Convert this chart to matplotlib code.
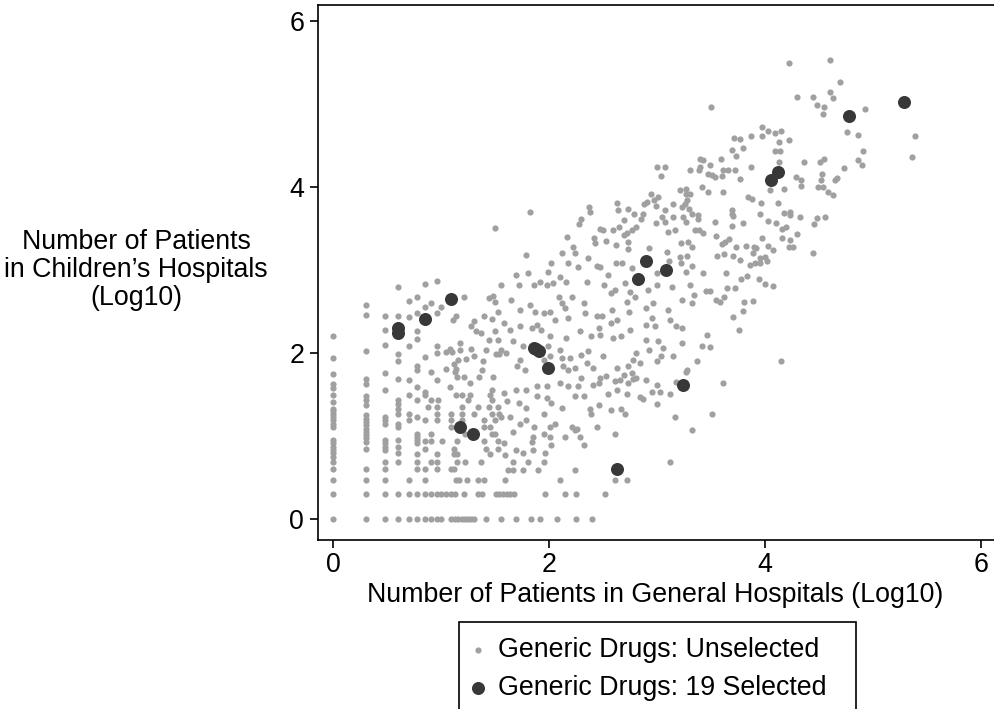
import numpy as np
import matplotlib
matplotlib.use("Agg")
import matplotlib.pyplot as plt

plt.rcParams['font.family'] = ['Liberation Sans', 'DejaVu Sans']

# ---- data (log10 of patient counts) ----
# discrete columns at the low end of general hospitals: log10(1..6)
col_x = [0.0, 0.301, 0.477, 0.602, 0.699, 0.778]
col_y = [
    [2.20, 1.94, 1.75, 1.63, 1.58, 1.49, 1.41, 1.33, 1.30, 1.27, 1.23, 1.19, 1.15, 1.11,
     0.95, 0.91, 0.87, 0.83, 0.79, 0.75, 0.69, 0.60, 0.47, 0.30, 0.0],
    [2.58, 2.46, 2.03, 1.69, 1.63, 1.48, 1.43, 1.37, 1.25, 1.21, 1.17, 1.13, 1.09, 1.05,
     1.01, 0.97, 0.93, 0.84, 0.60, 0.47, 0.30, 0.0],
    [2.44, 2.28, 2.10, 1.76, 1.55, 1.23, 1.19, 1.15, 0.95, 0.91, 0.87, 0.83, 0.69, 0.60,
     0.47, 0.30, 0.0],
    [2.80, 2.44, 1.99, 1.90, 1.69, 1.43, 1.39, 1.33, 1.27, 1.14, 1.11, 0.95, 0.87, 0.79,
     0.69, 0.30, 0.0],
    [2.63, 2.43, 2.08, 1.68, 1.49, 1.27, 1.19, 0.47, 0.30, 0.0],
    [2.67, 2.48, 2.27, 2.17, 1.84, 1.80, 1.59, 1.43, 1.23, 1.03, 0.99, 0.95, 0.91, 0.78,
     0.69, 0.60, 0.30, 0.0],
]

# discrete rows at the low end of children's hospitals: log10(1) and log10(2)
row0_x = [0.85, 0.91, 0.96, 1.0, 1.09, 1.13, 1.16, 1.19, 1.22, 1.25, 1.28, 1.31, 1.42,
          1.56, 1.69, 1.83, 1.92, 2.07, 2.25, 2.40]
row1_x = [0.85, 0.91, 0.96, 1.0, 1.05, 1.09, 1.13, 1.21, 1.34, 1.38, 1.51, 1.54, 1.57,
          1.61, 1.64, 1.68, 1.96, 2.15, 2.25, 2.52]

# low-left part of the cloud
low_pts = [
    (0.85, 0.47), (1.14, 0.47), (1.17, 0.47), (1.24, 0.47), (1.34, 0.47), (1.40, 0.47),
    (0.85, 0.60), (0.96, 0.60), (1.09, 0.60), (1.12, 0.60),
    (0.91, 0.69), (0.96, 0.69), (1.15, 0.69), (1.22, 0.69), (1.37, 0.69),
    (0.96, 0.78), (1.12, 0.78), (1.15, 0.78), (1.45, 0.78),
    (0.85, 0.84), (1.12, 0.84), (1.42, 0.84), (1.53, 0.84),
    (0.85, 0.94), (0.91, 0.94), (1.01, 0.94), (1.15, 0.94), (1.40, 0.94), (1.53, 0.94),
    (0.91, 1.03), (1.22, 1.03), (1.47, 1.03), (1.50, 1.03),
    (1.09, 1.11), (1.40, 1.11), (1.45, 1.11),
    (0.85, 1.19), (0.96, 1.19), (1.09, 1.19), (1.19, 1.19), (1.40, 1.19), (1.50, 1.19),
    (0.96, 1.27), (1.09, 1.27), (1.19, 1.27), (1.31, 1.27), (1.47, 1.27), (1.54, 1.27),
    (0.88, 1.35), (0.96, 1.35), (1.19, 1.35), (1.34, 1.35), (1.44, 1.35), (1.53, 1.35),
    (0.91, 1.43), (0.97, 1.43), (1.25, 1.43), (1.47, 1.43),
    (0.85, 1.49), (1.14, 1.49), (1.19, 1.49), (1.27, 1.49), (1.45, 1.49),
    (0.85, 2.83), (0.96, 2.87), (0.85, 2.55), (0.91, 2.60), (0.96, 2.48), (1.0, 2.56),
    (1.11, 2.40), (1.14, 2.44), (1.21, 2.67), (0.85, 1.95), (0.96, 2.09), (0.96, 2.00),
    (1.05, 2.01), (1.08, 2.05), (1.10, 2.01), (1.18, 2.12), (1.18, 2.04), (1.28, 2.05),
    (1.31, 1.96), (1.16, 1.92), (1.23, 1.93), (1.12, 1.87), (1.14, 1.81), (1.13, 1.77),
    (1.05, 1.81), (0.91, 1.77), (0.96, 1.67), (1.15, 1.71), (1.21, 1.71), (1.27, 1.64),
    (1.35, 1.71), (1.38, 1.79), (0.85, 1.53), (1.08, 1.59), (1.28, 2.32), (1.32, 2.26),
    (1.37, 2.24), (1.31, 2.38), (1.40, 2.44), (1.47, 2.41), (1.44, 2.66), (1.48, 2.69),
    (1.50, 2.62), (1.53, 2.50), (1.50, 2.26), (1.53, 2.16), (1.44, 2.16), (1.42, 2.04),
    (1.51, 1.99), (1.54, 1.99), (1.39, 1.90), (1.48, 1.71), (1.47, 1.55),
]

# middle of the cloud
mid_pts = [
    (1.79, 3.18), (2.02, 3.08), (2.12, 3.21), (2.24, 3.21), (2.18, 3.08), (2.27, 3.04),
    (2.36, 3.15), (2.44, 3.05), (2.47, 3.04), (2.62, 3.08), (2.68, 3.08), (2.77, 3.02),
    (3.0, 2.97), (3.09, 3.22), (3.21, 3.16), (3.28, 3.17), (3.32, 3.05), (3.22, 3.08),
    (3.11, 3.11), (3.27, 2.98),
    (1.69, 2.94), (1.81, 2.96), (1.99, 2.98), (2.10, 2.92), (1.92, 2.86), (1.56, 2.82),
    (1.72, 2.82), (1.86, 2.82), (1.98, 2.82), (2.04, 2.84), (2.16, 2.86), (2.35, 2.86),
    (2.55, 2.94), (2.70, 2.84), (2.61, 2.76), (2.51, 2.82), (2.57, 2.72), (2.75, 2.74),
    (2.80, 2.68), (2.92, 2.76), (3.0, 2.82), (3.14, 2.80), (3.31, 2.82), (3.34, 2.70),
    (3.23, 2.64), (3.32, 2.60),
    (1.65, 2.64), (1.73, 2.52), (1.82, 2.58), (1.87, 2.50), (1.95, 2.48), (2.01, 2.50),
    (2.06, 2.40), (2.15, 2.54), (2.18, 2.42), (2.21, 2.68), (2.09, 2.68), (2.12, 2.60),
    (2.32, 2.60), (2.33, 2.48), (2.44, 2.44), (2.49, 2.44), (2.58, 2.52), (2.57, 2.36),
    (2.63, 2.40), (2.74, 2.50), (2.72, 2.62), (2.90, 2.54), (2.96, 2.60), (3.10, 2.52),
    (3.18, 2.32), (3.23, 2.30), (3.12, 2.40), (2.95, 2.42), (2.98, 2.32), (2.90, 2.34),
    (2.75, 2.28), (2.39, 2.20), (2.47, 2.22), (2.59, 2.18), (2.67, 2.20), (2.46, 2.30),
    (1.58, 2.36), (1.64, 2.28), (1.73, 2.32), (1.84, 2.30), (1.89, 2.34), (1.93, 2.28),
    (2.01, 2.20), (2.16, 2.18), (2.29, 2.26), (1.67, 2.14), (1.56, 2.04), (1.76, 2.08),
    (1.89, 2.04), (1.99, 2.08), (2.10, 2.04), (2.19, 1.94), (2.30, 1.97), (2.36, 2.02),
    (2.50, 1.96), (2.35, 1.88), (2.24, 1.82), (2.41, 1.82), (2.90, 2.16), (2.93, 2.04),
    (3.01, 2.14), (3.06, 2.06), (3.04, 1.96), (3.0, 1.90), (3.15, 1.96), (3.23, 2.12),
    (3.37, 1.90), (3.28, 1.80), (2.81, 2.00), (2.78, 1.92), (2.84, 1.88), (2.73, 1.84),
    (2.63, 1.82), (2.69, 1.74), (2.77, 1.76), (2.81, 1.70), (2.90, 1.68), (2.73, 1.64),
    (2.66, 1.68),
    (1.73, 1.92), (1.60, 2.00), (1.70, 1.84), (1.78, 1.80), (1.95, 1.92), (2.01, 1.96),
    (2.12, 1.94), (2.13, 1.84), (2.18, 1.80), (2.30, 1.70), (2.27, 1.60), (2.18, 1.60),
    (2.10, 1.64), (1.98, 1.60), (1.89, 1.60), (1.79, 1.56), (1.69, 1.56), (1.58, 1.52),
    (1.61, 1.42), (1.72, 1.40), (1.79, 1.34), (1.89, 1.48), (1.98, 1.46), (2.02, 1.40),
    (1.95, 1.27), (2.12, 1.34), (2.24, 1.48), (2.32, 1.48), (2.41, 1.62), (2.47, 1.70),
    (2.55, 1.51), (2.46, 1.37), (2.39, 1.27), (2.44, 1.11), (2.57, 1.31), (2.67, 1.33),
    (2.70, 1.27), (2.63, 1.55), (2.72, 1.51), (2.87, 1.45), (3.0, 1.61), (2.95, 1.53),
    (3.03, 1.53), (3.0, 1.39), (3.12, 1.51), (3.18, 1.65), (3.27, 1.77), (3.61, 1.64),
    (3.51, 1.27), (3.17, 1.23), (3.32, 1.07), (3.12, 0.69), (2.61, 1.03), (2.61, 0.47),
    (2.72, 0.47), (2.10, 0.47), (2.24, 0.59), (1.90, 0.59), (1.76, 0.59), (1.67, 0.59),
    (1.62, 0.59), (1.59, 0.47), (1.67, 0.69), (1.76, 0.79), (1.85, 0.83), (1.96, 0.79),
    (1.95, 0.69), (1.81, 0.69), (1.59, 0.77), (1.69, 0.83), (1.58, 0.91), (1.85, 0.99),
    (1.84, 0.93), (1.95, 1.03), (2.01, 0.99), (2.02, 0.89), (2.15, 0.99), (2.24, 1.07),
    (2.29, 0.99), (2.32, 0.89), (1.67, 1.05), (1.73, 1.15), (1.79, 1.19), (1.64, 1.23),
    (1.56, 1.23), (1.86, 1.11), (2.01, 1.11), (2.06, 1.15), (2.26, 1.09), (2.21, 1.11),
    (2.38, 1.33), (2.46, 1.64), (2.53, 1.72), (2.61, 1.66), (2.84, 1.47), (2.78, 1.69),
]

# upper part of the cloud
upper_pts = [
    (1.82, 3.70), (1.50, 3.51), (2.22, 3.28), (3.31, 4.20), (3.27, 3.98), (3.21, 3.96),
    (3.27, 3.91), (3.31, 3.92), (3.28, 3.84), (3.26, 3.80), (3.30, 3.74), (3.32, 3.68),
    (3.23, 3.76), (3.38, 3.66), (3.38, 3.62), (3.24, 3.64), (3.15, 3.79), (3.07, 3.72),
    (3.05, 3.64), (2.99, 3.57), (3.07, 3.58), (3.10, 3.46), (3.15, 3.64), (3.17, 3.48),
    (3.27, 3.58), (3.35, 3.48), (3.39, 3.48), (3.0, 4.24), (3.07, 4.24), (3.04, 4.13),
    (2.94, 3.92), (3.01, 3.88), (2.97, 3.84), (2.91, 3.82), (2.88, 3.80), (2.99, 3.77),
    (2.63, 3.81), (2.64, 3.72), (2.73, 3.74), (2.79, 3.68), (2.87, 3.68), (2.85, 3.62),
    (2.69, 3.60), (2.81, 3.52), (2.77, 3.48), (2.72, 3.44), (2.69, 3.42), (2.65, 3.52),
    (2.59, 3.48), (2.47, 3.50), (2.50, 3.48), (2.37, 3.76), (2.38, 3.70), (2.30, 3.62),
    (2.28, 3.55), (2.17, 3.40), (2.42, 3.39), (2.53, 3.35), (2.43, 3.32), (2.62, 3.30),
    (2.73, 3.34), (2.73, 3.25), (2.93, 3.26), (3.22, 3.32), (3.29, 3.34), (3.32, 3.28),
    (3.39, 4.20),
    (3.54, 3.58), (3.43, 3.45), (3.55, 3.41), (3.69, 3.53), (3.80, 3.57), (3.69, 3.72),
    (3.69, 3.68), (3.70, 3.65), (3.95, 3.67), (4.03, 3.59), (4.10, 3.57), (4.18, 3.69),
    (4.23, 3.70), (4.23, 3.66), (4.32, 3.64), (4.45, 3.55), (4.48, 3.63), (4.56, 3.64),
    (4.16, 3.50), (4.19, 3.52), (4.16, 3.39), (4.23, 3.36), (4.22, 3.28), (4.26, 3.28),
    (4.30, 3.43), (4.44, 3.21), (3.97, 3.39), (3.60, 3.31), (3.63, 3.34), (3.67, 3.37),
    (3.73, 3.28), (3.82, 3.29), (3.90, 3.28), (3.92, 3.26), (4.03, 3.29), (4.07, 3.24),
    (4.0, 3.16), (4.02, 3.11), (3.95, 3.14), (3.89, 3.20), (3.56, 3.17), (3.62, 3.19),
    (3.70, 3.17), (3.77, 3.12), (3.86, 3.06), (3.91, 3.08), (3.95, 3.09), (3.43, 2.97),
    (3.64, 2.96), (3.83, 2.93), (3.94, 2.89), (4.0, 2.83), (4.07, 2.81), (3.78, 2.89),
    (3.65, 2.78), (3.72, 2.78), (3.45, 2.75), (3.49, 2.75), (3.55, 2.64), (3.62, 2.67),
    (3.58, 2.61), (3.81, 2.61), (3.89, 2.63), (3.80, 2.51), (3.70, 2.43), (3.76, 2.28),
    (3.46, 2.22), (3.42, 2.08), (3.49, 2.07), (4.15, 1.90),
    (3.71, 4.59), (3.77, 4.58), (3.87, 4.62), (3.97, 4.72), (3.97, 4.62), (4.03, 4.68),
    (4.09, 4.65), (4.15, 4.68), (4.13, 4.54), (4.22, 4.57), (3.69, 4.45), (3.80, 4.47),
    (3.73, 4.37), (3.59, 4.34), (3.40, 4.34), (4.09, 4.43), (4.14, 4.43), (4.13, 4.30),
    (3.87, 4.24), (4.36, 4.30), (4.51, 4.30), (4.55, 4.34), (4.73, 4.23), (4.86, 4.32),
    (4.90, 4.27), (4.91, 4.43), (4.86, 4.63), (4.76, 4.66), (4.93, 4.94), (4.54, 4.88),
    (4.55, 4.96), (4.48, 4.99), (4.44, 5.08), (4.60, 5.14), (4.63, 5.07), (4.69, 5.27),
    (5.39, 4.62), (5.36, 4.36), (4.29, 4.12), (4.33, 4.08), (4.33, 4.01), (4.53, 4.16),
    (4.52, 4.08), (4.49, 4.00), (4.54, 4.00), (4.58, 3.94), (4.63, 3.90), (4.65, 4.08),
    (4.67, 4.11), (4.18, 3.98), (4.05, 3.97), (3.77, 4.10), (3.47, 4.16), (3.51, 4.14),
    (3.54, 4.12), (3.61, 4.20), (3.66, 4.20), (3.72, 4.21), (3.60, 4.13), (3.42, 4.00),
    (3.47, 3.94), (3.61, 3.94), (3.84, 3.88), (3.88, 3.85), (3.96, 3.81), (4.12, 3.81),
    (3.43, 4.32), (3.40, 4.24), (3.49, 4.26), (3.50, 4.97), (4.30, 5.09), (4.22, 5.50),
    (4.60, 5.53),
]

# the 19 selected drugs
sel_x = [0.60, 0.60, 0.85, 1.09, 1.18, 1.30, 1.86, 1.91, 1.88, 1.99, 2.63, 2.82, 2.90,
         3.08, 3.24, 4.06, 4.12, 4.78, 5.29]
sel_y = [2.30, 2.24, 2.41, 2.65, 1.11, 1.03, 2.06, 2.03, 2.05, 1.82, 0.60, 2.89, 3.11,
         3.00, 1.61, 4.08, 4.18, 4.86, 5.02]

# ---- assemble unselected ----
ux = []
uy = []
for cx, ys in zip(col_x, col_y):
    ux += [cx] * len(ys)
    uy += ys
ux += row0_x
uy += [0.0] * len(row0_x)
ux += row1_x
uy += [0.301] * len(row1_x)
for pts in (low_pts, mid_pts, upper_pts):
    ux += [p[0] for p in pts]
    uy += [p[1] for p in pts]

FS = 19.3
fig = plt.figure(figsize=(9.95, 7.09), dpi=100)
W, H = 995.0, 709.0
ax = fig.add_axes([318 / W, (H - 540) / H, (1000 - 318) / W, (540 - 5) / H])

h1 = ax.scatter(ux, uy, s=20, color='#a0a0a0', linewidths=0, zorder=2,
                label='Generic Drugs: Unselected')
h2 = ax.scatter(sel_x, sel_y, s=88, color='#383838', linewidths=0, zorder=3,
                label='Generic Drugs: 19 Selected')

ax.set_xlim(-0.139, 6.176)
ax.set_ylim(-0.253, 6.193)
ax.set_xticks([0, 2, 4, 6])
ax.set_yticks([0, 2, 4, 6])
ax.spines['right'].set_visible(False)
for sp in ('left', 'bottom', 'top'):
    ax.spines[sp].set_linewidth(1.2)
    ax.spines[sp].set_color('black')
ax.tick_params(direction='out', length=6, width=1.2, labelsize=FS)
ax.tick_params(axis='x', pad=3)
ax.tick_params(axis='y', pad=4)

fig.text(655 / W, 1 - 595 / H, 'Number of Patients in General Hospitals (Log10)',
         ha='center', va='center', fontsize=FS)
fig.text(136 / W, 1 - 270 / H, 'Number of Patients\nin Children\u2019s Hospitals\n(Log10)',
         ha='center', va='center', multialignment='center', fontsize=FS,
         linespacing=1.1)

leg = ax.legend(handles=[h1, h2], loc='upper left',
                bbox_to_anchor=(459 / W, 1 - 622 / H, (856 - 459) / W, 0.0),
                bbox_transform=fig.transFigure, mode='expand', borderaxespad=0,
                frameon=True, fancybox=False, edgecolor='black', framealpha=1,
                fontsize=FS, handlelength=0.3, handletextpad=0.6, borderpad=0.55,
                labelspacing=0.46, scatterpoints=1)
leg.get_frame().set_linewidth(1.2)

fig.savefig('out.png', dpi=100)
